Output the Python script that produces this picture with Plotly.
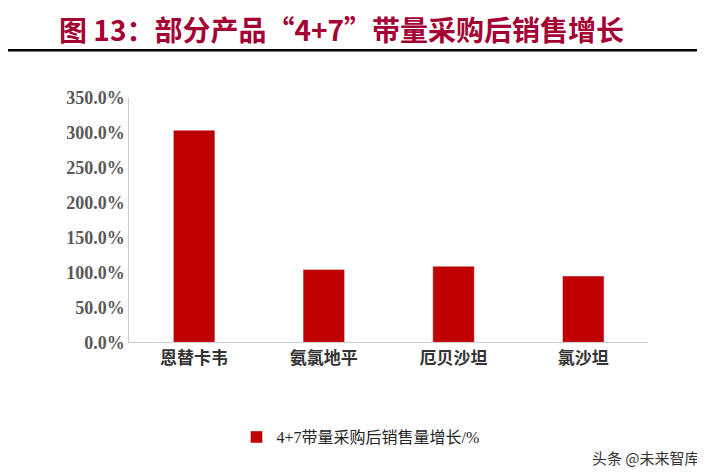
import plotly.graph_objects as go

products = ["恩替卡韦", "氨氯地平", "厄贝沙坦", "氯沙坦"]
growth = [304.0, 104.5, 109.0, 95.0]
series_name = "4+7带量采购后销售量增长/%"
y_ticks = [0, 50, 100, 150, 200, 250, 300, 350]

fig = go.Figure()
fig.add_trace(go.Bar(x=products, y=growth, name=series_name,
                     marker_color="#C00000", width=0.32))

fig.update_layout(
    width=705, height=473,
    margin=dict(l=0, r=0, t=0, b=0),
    paper_bgcolor="white", plot_bgcolor="white",
    font=dict(family="Liberation Serif, Noto Sans CJK SC", size=17, color="#222"),
    showlegend=True,
    legend=dict(x=0.5, y=0.075, xanchor="center", yanchor="middle",
                orientation="h", font=dict(size=16)),
    xaxis=dict(domain=[0.172, 0.908], showline=True, linecolor="#ccc",
               ticks="", tickvals=products,
               ticktext=[f"<b>{p}</b>" for p in products],
               tickfont=dict(family="Noto Sans CJK SC", size=17, color="#333")),
    yaxis=dict(domain=[0.284, 0.823], range=[0, 350], tickvals=y_ticks,
               ticktext=[f"<b>{v:.1f}%</b>" for v in y_ticks], showline=True,
               linecolor="#ccc", ticks="", showgrid=False,
               tickfont=dict(family="Liberation Serif", size=18, color="#595959")),
    shapes=[dict(type="line", xref="paper", yref="paper", x0=0.0, x1=1.0,
                 y0=0.929, y1=0.929, line=dict(color="black", width=2.5))],
    annotations=[
        dict(text="<b>图 13：部分产品“4+7”带量采购后销售增长</b>", xref="paper", yref="paper",
             x=0.07, y=0.975, xanchor="left", yanchor="middle", showarrow=False,
             font=dict(family="Noto Sans CJK SC", size=28, color="#A50034")),
        dict(text="头条 @未来智库", xref="paper", yref="paper", x=0.985, y=0.03,
             xanchor="right", yanchor="middle", showarrow=False,
             font=dict(family="Noto Sans CJK SC", size=15, color="#333")),
    ],
)
fig.write_html("out.html")
